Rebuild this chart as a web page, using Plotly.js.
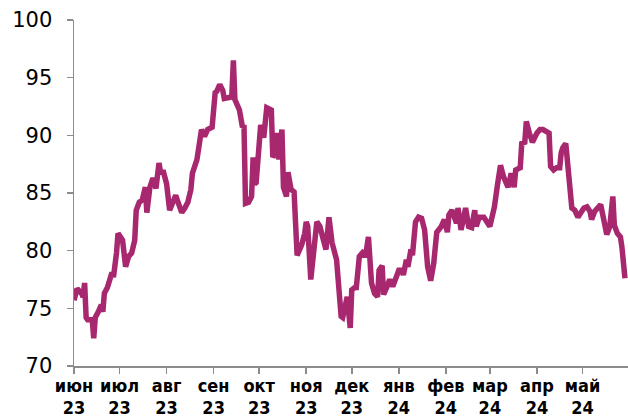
<!DOCTYPE html>
<html>
<head>
<meta charset="utf-8">
<script src="https://cdn.plot.ly/plotly-3.0.1.min.js"></script>
<style>html,body{margin:0;padding:0;background:#fff;}#chart{width:628px;height:417px;}</style>
</head>
<body>
<div id="chart"></div>
<script>
const dates = [
'2023-06-01','2023-06-03','2023-06-06','2023-06-07','2023-06-08','2023-06-09','2023-06-10','2023-06-13','2023-06-14','2023-06-15',
'2023-06-17','2023-06-19','2023-06-20','2023-06-21','2023-06-23','2023-06-26','2023-06-27','2023-06-28','2023-06-29','2023-06-30',
'2023-07-03','2023-07-05','2023-07-07','2023-07-09','2023-07-11','2023-07-12','2023-07-14','2023-07-16','2023-07-18','2023-07-19',
'2023-07-21','2023-07-23','2023-07-25','2023-07-27','2023-07-28','2023-07-30','2023-08-01','2023-08-03','2023-08-05','2023-08-07',
'2023-08-08','2023-08-11','2023-08-13','2023-08-15','2023-08-17','2023-08-18','2023-08-21','2023-08-22','2023-08-24','2023-08-26',
'2023-08-28','2023-08-31','2023-09-01','2023-09-02','2023-09-03','2023-09-05','2023-09-07','2023-09-08','2023-09-12','2023-09-13',
'2023-09-14','2023-09-15','2023-09-18','2023-09-20','2023-09-21','2023-09-22','2023-09-24','2023-09-26','2023-09-27','2023-09-28',
'2023-09-29','2023-10-01','2023-10-02','2023-10-04','2023-10-06','2023-10-09','2023-10-10','2023-10-12','2023-10-13','2023-10-14',
'2023-10-16','2023-10-17','2023-10-19','2023-10-20','2023-10-22','2023-10-24','2023-10-26','2023-10-29','2023-10-31','2023-11-01',
'2023-11-02','2023-11-04','2023-11-06','2023-11-08','2023-11-10','2023-11-12','2023-11-14','2023-11-16','2023-11-18','2023-11-21',
'2023-11-22','2023-11-24','2023-11-25','2023-11-27','2023-11-28','2023-11-30','2023-12-01','2023-12-03','2023-12-04','2023-12-06',
'2023-12-08','2023-12-10','2023-12-12','2023-12-14','2023-12-16','2023-12-18','2023-12-19','2023-12-21','2023-12-22','2023-12-24',
'2023-12-26','2023-12-28','2023-12-30','2024-01-01','2024-01-03','2024-01-04','2024-01-06','2024-01-07','2024-01-09','2024-01-10',
'2024-01-12','2024-01-14','2024-01-16','2024-01-18','2024-01-20','2024-01-22','2024-01-24','2024-01-26','2024-01-29','2024-01-31',
'2024-02-02','2024-02-03','2024-02-05','2024-02-08','2024-02-09','2024-02-11','2024-02-12','2024-02-14','2024-02-16','2024-02-18',
'2024-02-20','2024-02-21','2024-02-23','2024-02-26','2024-02-27','2024-03-01','2024-03-04','2024-03-05','2024-03-06','2024-03-08',
'2024-03-10','2024-03-13','2024-03-15','2024-03-17','2024-03-18','2024-03-21','2024-03-22','2024-03-24','2024-03-25','2024-03-27',
'2024-03-29','2024-04-01','2024-04-03','2024-04-05','2024-04-07','2024-04-09','2024-04-10','2024-04-12','2024-04-14','2024-04-16',
'2024-04-17','2024-04-18','2024-04-20','2024-04-21','2024-04-23','2024-04-24','2024-04-26','2024-04-28','2024-04-30','2024-05-02',
'2024-05-04','2024-05-06','2024-05-07','2024-05-09','2024-05-11','2024-05-13','2024-05-15','2024-05-17','2024-05-19','2024-05-21',
'2024-05-22','2024-05-24','2024-05-26','2024-05-27','2024-05-29'
];
const values = [
75.7,76.7,76.3,76.0,77.2,74.2,74.0,74.0,72.4,74.2,
74.7,75.3,74.7,76.3,76.8,78.1,77.7,78.6,79.8,81.5,
80.9,78.6,79.5,79.8,80.9,83.5,84.2,84.4,85.5,83.3,
85.5,86.3,85.4,87.6,86.8,86.8,85.8,83.5,84.1,84.8,
84.4,83.3,83.7,84.2,85.3,86.7,87.9,89.0,90.5,89.9,
90.5,90.7,91.9,93.7,93.8,94.4,93.9,93.2,93.3,93.5,
96.5,93.1,92.2,90.7,90.9,84.1,84.2,84.7,88.1,85.8,
85.9,89.6,90.9,89.8,92.4,92.2,88.1,88.5,90.2,87.9,
90.5,85.5,84.7,86.8,85.3,85.1,79.6,80.5,81.5,82.5,
82.1,77.5,80.3,82.5,82.1,80.9,80.1,82.9,80.7,79.2,
77.5,74.3,74.2,75.7,76.0,73.3,76.6,76.8,76.8,79.5,
79.8,79.5,81.2,77.2,76.3,76.0,78.3,78.7,76.2,76.8,
77.5,76.9,77.7,78.3,78.3,77.9,79.2,78.6,80.1,79.6,
82.5,82.9,82.8,81.8,78.6,77.4,78.9,81.6,82.1,82.7,
81.6,83.1,83.5,82.4,83.7,81.8,82.4,83.7,82.1,82.0,
83.5,82.1,82.9,82.9,82.7,82.1,83.8,85.4,85.7,87.4,
86.4,85.5,86.7,85.5,87.0,87.2,89.3,89.4,91.2,90.2,
89.4,90.2,90.5,90.5,90.4,90.2,87.3,87.0,87.2,87.2,
88.5,88.9,89.3,87.7,85.5,83.7,83.5,82.9,83.3,83.7,
83.8,83.4,82.7,83.4,83.7,84.0,82.7,81.4,82.1,84.7,
82.2,81.5,81.2,80.3,77.6
];
const tickDates = ['2023-06-01','2023-07-01','2023-08-01','2023-09-01','2023-10-01','2023-11-01','2023-12-01','2024-01-01','2024-02-01','2024-03-01','2024-04-01','2024-05-01'];
const monthLabels = ['июн','июл','авг','сен','окт','ноя','дек','янв','фев','мар','апр','май'];
const yearLabels = ['23','23','23','23','23','23','23','24','24','24','24','24'];
const yTicks = [70,75,80,85,90,95,100];

const xRange = ['2023-06-01','2024-05-31'];
const axisColor = '#8c8c8c';
const xFont = {family:'Liberation Sans Narrow, Arial Narrow, DejaVu Sans Condensed, sans-serif', size:18, color:'#000', weight:700};

const traces = [
  {x: dates, y: values, type:'scatter', mode:'lines', line:{color:'#a8286f', width:5.5}, hoverinfo:'skip', showlegend:false},
  {x: tickDates, y: tickDates.map(()=>null), xaxis:'x2', type:'scatter', mode:'lines', hoverinfo:'skip', showlegend:false}
];
const layout = {
  width:628, height:417,
  margin:{l:74, r:0, t:20, b:51, pad:0},
  paper_bgcolor:'#fff', plot_bgcolor:'#fff',
  showlegend:false,
  xaxis:{type:'date', range:xRange, tickmode:'array', tickvals:tickDates, ticktext:monthLabels,
    ticks:'outside', ticklen:6, tickwidth:1.5, tickcolor:axisColor, showline:true, linecolor:axisColor, linewidth:1.5,
    showgrid:false, zeroline:false, tickfont:xFont, ticklabelstandoff:-3, fixedrange:true},
  xaxis2:{type:'date', range:xRange, overlaying:'x', anchor:'y', side:'bottom', tickmode:'array', tickvals:tickDates, ticktext:yearLabels,
    ticks:'', showline:false, showgrid:false, zeroline:false, tickfont:xFont, ticklabelstandoff:29, fixedrange:true},
  yaxis:{range:[70,100], tickmode:'array', tickvals:yTicks, ticks:'outside', ticklen:6, tickwidth:1.5, tickcolor:axisColor,
    showline:true, linecolor:axisColor, linewidth:1.5, showgrid:false, zeroline:false,
    tickfont:{family:'DejaVu Sans, sans-serif', size:21, color:'#000'}, ticklabelstandoff:10, fixedrange:true}
};
Plotly.newPlot('chart', traces, layout, {staticPlot:true, displayModeBar:false});
</script>
</body>
</html>
